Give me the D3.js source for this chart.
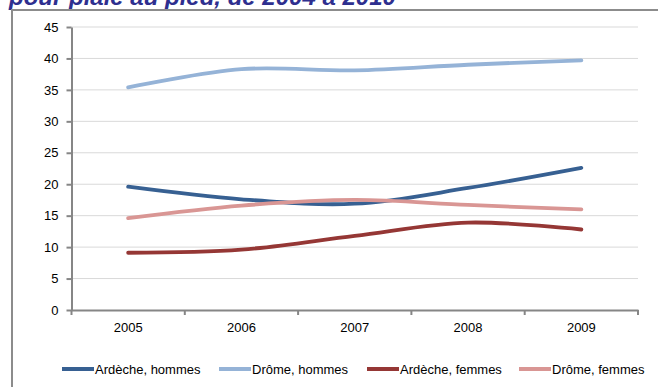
<!DOCTYPE html>
<html>
<head>
<meta charset="utf-8">
<script src="https://cdn.jsdelivr.net/npm/d3@7"></script>
<style>
  body { margin: 0; background: #fff; }
  text { font-family: 'Liberation Sans', Arial, sans-serif; }
</style>
</head>
<body>
<div id="root"></div>
<script>
var years = ['2005', '2006', '2007', '2008', '2009'];
var yTicks = [0, 5, 10, 15, 20, 25, 30, 35, 40, 45];
var seriesNames = ['Ardèche, hommes', 'Drôme, hommes', 'Ardèche, femmes', 'Drôme, femmes'];
var ardecheHommes = [19.6, 17.6, 16.9, 19.4, 22.6];
var dromeHommes = [35.4, 38.3, 38.1, 39.0, 39.7];
var ardecheFemmes = [9.1, 9.6, 11.8, 13.9, 12.8];
var dromeFemmes = [14.6, 16.6, 17.5, 16.7, 16.0];
var colors = ['#376092', '#95b3d7', '#953735', '#d99694'];

var series = [ardecheHommes, dromeHommes, ardecheFemmes, dromeFemmes].map((values, i) => ({
  name: seriesNames[i],
  color: colors[i],
  values: values
}));

var W = 658, H = 387;
var margin = { top: 27, right: 20, bottom: 77, left: 71.5 },
  height = H - margin.top - margin.bottom,
  width = 638 - margin.left;

var svg = d3.select('#root')
  .append('svg')
    .attr('width', W)
    .attr('height', H);

// title of the page above, cut by the crop
svg.append('text')
  .attr('x', 9)
  .attr('y', 5)
  .attr('font-size', '24px')
  .attr('font-weight', 'bold')
  .attr('font-style', 'italic')
  .attr('fill', '#2e2f8f')
  .text('pour plaie au pied, de 2004 à 2010');

// chart frame
svg.append('rect')
  .attr('x', 12)
  .attr('y', 10)
  .attr('width', 700)
  .attr('height', 450)
  .attr('fill', 'none')
  .attr('stroke', '#8c8c8c')
  .attr('stroke-width', 2);

var g = svg.append('g')
  .attr('transform', 'translate(' + margin.left + ', ' + margin.top + ')');

var yScale = d3.scaleLinear()
  .domain([0, 45])
  .range([height, 0]);

var xScale = d3.scaleBand()
  .domain(years)
  .range([0, width]);

// grid
g.append('g')
  .attr('class', 'grid')
  .selectAll('line')
  .data(yTicks.filter(t => t > 0))
  .enter()
  .append('line')
    .attr('x1', 0)
    .attr('x2', width)
    .attr('y1', t => yScale(t))
    .attr('y2', t => yScale(t))
    .attr('stroke', '#d9d9d9')
    .attr('stroke-width', 1);

var yAxisCall = d3.axisLeft(yScale)
  .tickValues(yTicks)
  .tickSize(5)
  .tickPadding(8)
  .tickSizeOuter(0);

var yAxis = g.append('g')
  .attr('class', 'y-axis')
  .call(yAxisCall);

var xAxisCall = d3.axisBottom(xScale)
  .tickSize(0)
  .tickPadding(13)
  .tickSizeOuter(0);

var xAxis = g.append('g')
  .attr('class', 'x-axis')
  .attr('transform', 'translate(0, ' + height + ')')
  .call(xAxisCall);

// category boundary ticks
xAxis.selectAll('.bound')
  .data(d3.range(years.length + 1))
  .enter()
  .append('line')
    .attr('class', 'bound')
    .attr('x1', i => i * xScale.step())
    .attr('x2', i => i * xScale.step())
    .attr('y1', 0)
    .attr('y2', 5)
    .attr('stroke', '#868686')
    .attr('stroke-width', 2);

[yAxis, xAxis].forEach(ax => {
  ax.selectAll('.domain, .tick line')
    .attr('stroke', '#868686')
    .attr('stroke-width', 2);
  ax.selectAll('text')
    .attr('font-size', '13px')
    .attr('fill', '#000');
});

var line = d3.line()
  .x((d, i) => xScale(years[i]) + xScale.bandwidth() / 2)
  .y(d => yScale(d))
  .curve(d3.curveCatmullRom.alpha(0.5));

g.selectAll('.serie')
  .data(series)
  .enter()
  .append('path')
    .attr('class', 'serie')
    .attr('d', s => line(s.values))
    .attr('fill', 'none')
    .attr('stroke', s => s.color)
    .attr('stroke-width', 3.8)
    .attr('stroke-linecap', 'round');

// legend
var legendX = [62, 219, 367, 519];
var legend = svg.selectAll('.legend')
  .data(series)
  .enter()
  .append('g')
    .attr('class', 'legend')
    .attr('transform', (s, i) => 'translate(' + legendX[i] + ', 369)');

legend.append('line')
  .attr('x1', 0)
  .attr('x2', 32)
  .attr('stroke', s => s.color)
  .attr('stroke-width', 4);

legend.append('text')
  .attr('x', 33)
  .attr('dy', '0.35em')
  .attr('font-size', '13px')
  .text(s => s.name);
</script>
</body>
</html>
